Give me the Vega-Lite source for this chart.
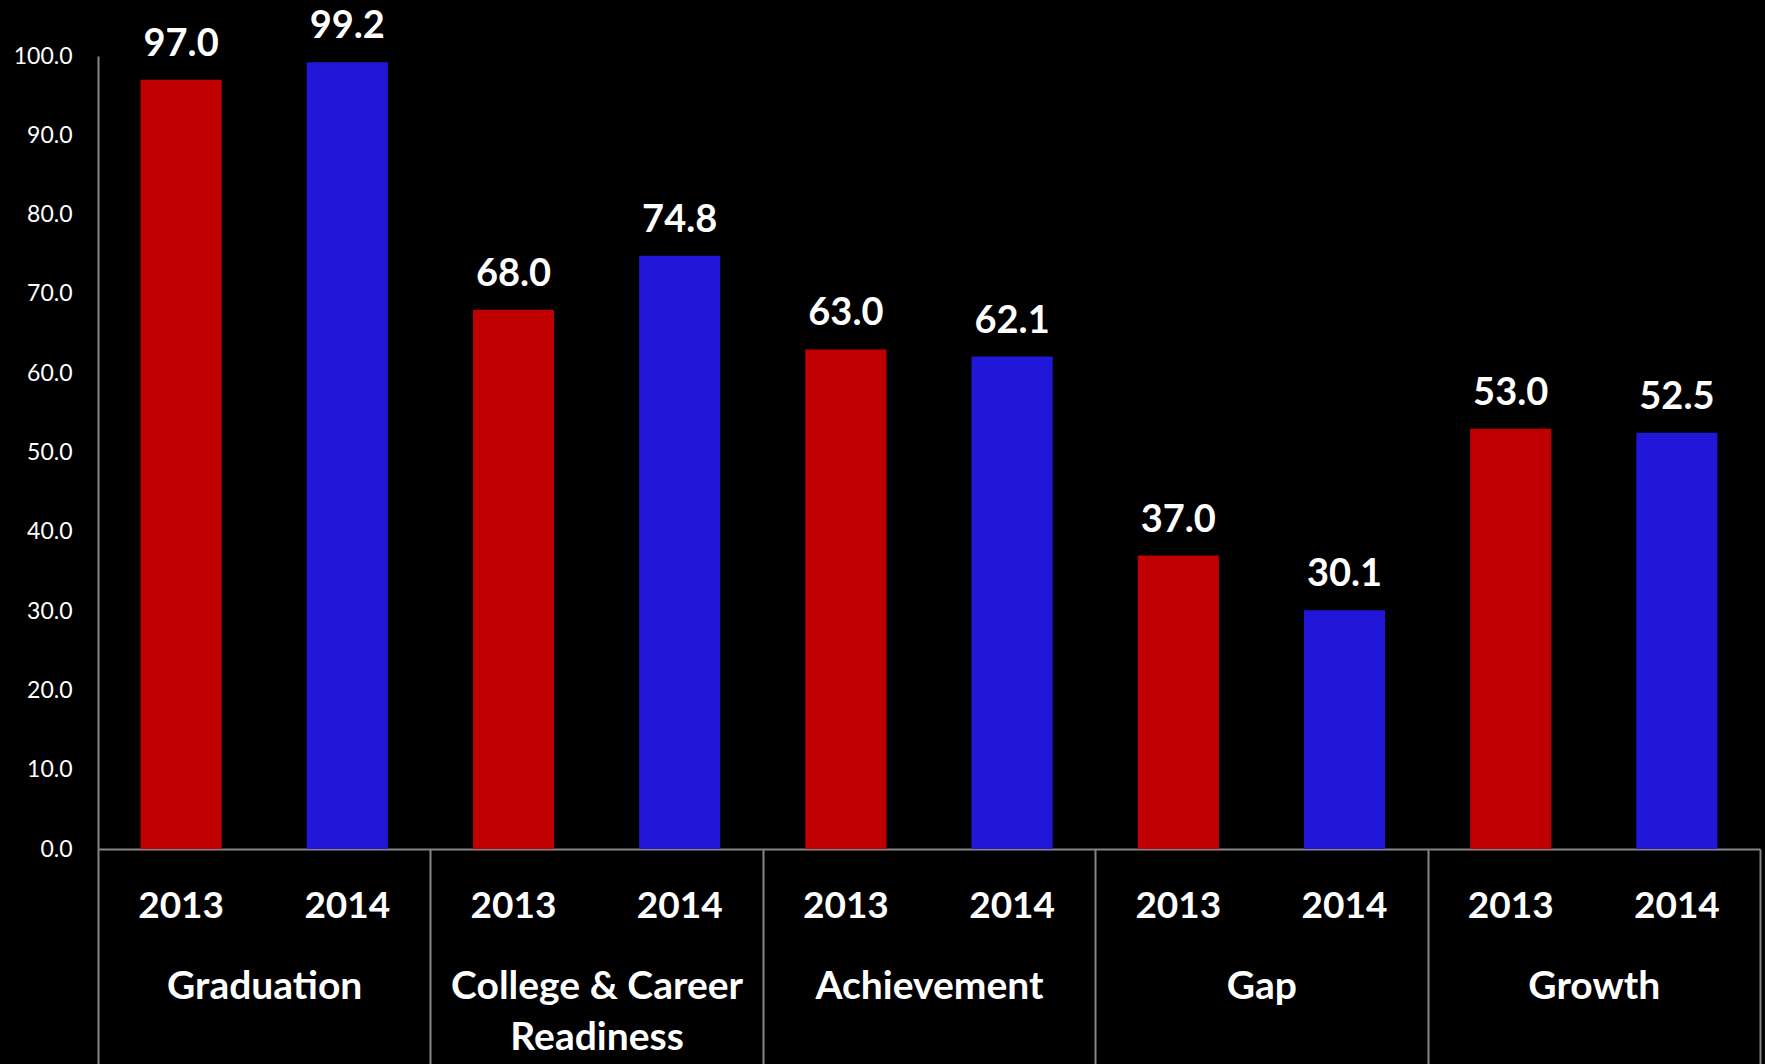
{
  "$schema": "https://vega.github.io/schema/vega-lite/v6.json",
  "autosize": {"type": "none"},
  "padding": {"left": 98, "top": 56, "right": 5, "bottom": 215},
  "width": 1662,
  "height": 793,
  "background": "#000000",
  "config": {"view": {"stroke": null}, "font": "Lato"},
  "data": {"values": [
    {"group": "Graduation", "year": "2013", "key": "Graduation 2013", "value": 97.0},
    {"group": "Graduation", "year": "2014", "key": "Graduation 2014", "value": 99.2},
    {"group": "College & Career Readiness", "year": "2013", "key": "College & Career Readiness 2013", "value": 68.0},
    {"group": "College & Career Readiness", "year": "2014", "key": "College & Career Readiness 2014", "value": 74.8},
    {"group": "Achievement", "year": "2013", "key": "Achievement 2013", "value": 63.0},
    {"group": "Achievement", "year": "2014", "key": "Achievement 2014", "value": 62.1},
    {"group": "Gap", "year": "2013", "key": "Gap 2013", "value": 37.0},
    {"group": "Gap", "year": "2014", "key": "Gap 2014", "value": 30.1},
    {"group": "Growth", "year": "2013", "key": "Growth 2013", "value": 53.0},
    {"group": "Growth", "year": "2014", "key": "Growth 2014", "value": 52.5}
  ]},
  "resolve": {"scale": {"x": "independent"}, "axis": {"x": "independent"}},
  "layer": [
    {
      "layer": [
        {
          "mark": {"type": "bar"},
          "encoding": {
            "x": {
              "field": "key", "type": "nominal", "sort": null,
              "scale": {"paddingInner": 0.512, "paddingOuter": 0.256},
              "axis": {
                "orient": "bottom", "title": null, "ticks": false,
                "labelExpr": "slice(datum.label, -4)",
                "labelAngle": 0, "labelFont": "Lato", "labelFontWeight": "bold",
                "labelFontSize": 37, "labelColor": "#FFFFFF", "labelPadding": 39,
                "labelLimit": 0,
                "domainColor": "#868686", "domainWidth": 2, "grid": false
              }
            },
            "y": {
              "field": "value", "type": "quantitative",
              "scale": {"domain": [0, 100], "nice": false},
              "axis": {
                "title": null, "ticks": false, "grid": false,
                "values": [0, 10, 20, 30, 40, 50, 60, 70, 80, 90, 100],
                "format": ".1f", "labelFont": "Lato", "labelFontSize": 23,
                "labelColor": "#FFFFFF", "labelPadding": 26,
                "domainColor": "#868686", "domainWidth": 2
              }
            },
            "color": {
              "field": "year", "type": "nominal",
              "scale": {"domain": ["2013", "2014"], "range": ["#C00000", "#2117D9"]},
              "legend": null
            }
          }
        },
        {
          "mark": {"type": "text", "font": "Lato", "fontWeight": "bold", "fontSize": 38, "color": "#FFFFFF", "baseline": "alphabetic", "dy": -24},
          "encoding": {
            "x": {"field": "key", "type": "nominal", "sort": null},
            "y": {"field": "value", "type": "quantitative"},
            "text": {"field": "value", "type": "quantitative", "format": ".1f"}
          }
        }
      ]
    },
    {
      "mark": {"type": "text", "opacity": 0},
      "encoding": {
        "x": {
          "field": "group", "type": "nominal", "sort": null,
          "scale": {"paddingInner": 0, "paddingOuter": 0},
          "axis": {
            "orient": "bottom", "title": null, "domain": false, "grid": false,
            "ticks": true, "tickBand": "extent", "tickSize": 215,
            "tickColor": "#868686", "tickWidth": 2,
            "labelAngle": 0, "labelFont": "Lato", "labelFontWeight": "bold",
            "labelFontSize": 39, "labelColor": "#FFFFFF", "labelPadding": -97,
            "labelLineHeight": 51, "labelLimit": 0,
            "labelExpr": "datum.label == 'College & Career Readiness' ? ['College & Career', 'Readiness'] : datum.label"
          }
        },
        "text": {"value": ""}
      }
    }
  ]
}
